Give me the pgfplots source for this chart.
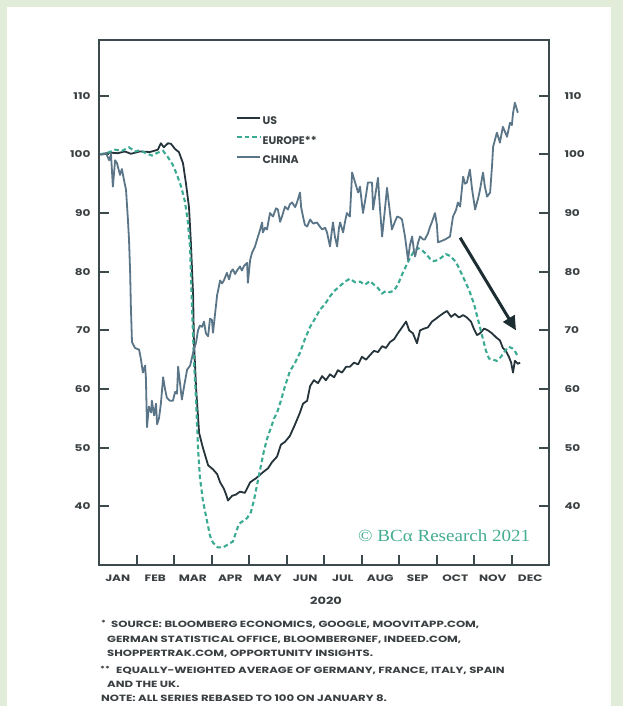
\documentclass[border=0pt]{standalone}
\usepackage{fontspec}
\setmainfont{Poppins}
\newfontfamily\widefont{Poppins}[FakeStretch=1.3]
\newfontfamily\bcafont{Liberation Serif}[FakeStretch=1.12]
\usepackage{pgfplots}
\pgfplotsset{compat=1.18}
\usetikzlibrary{arrows.meta}
\definecolor{bggreen}{HTML}{E2EDD9}
\definecolor{axisgray}{HTML}{3D4A4D}
\definecolor{txtgray}{HTML}{3A3F42}
\definecolor{uscol}{HTML}{25333A}
\definecolor{eucol}{HTML}{3BAA93}
\definecolor{cncol}{HTML}{5A7587}
\definecolor{bcateal}{HTML}{45AD92}
\definecolor{arrowcol}{HTML}{1D2E32}
\begin{document}
\begin{tikzpicture}[x=1pt,y=1pt]
\fill[bggreen] (0,0) rectangle (623,706);
\fill[white] (7,0) rectangle (611,699);
\useasboundingbox (0,0) rectangle (623,706);
\begin{axis}[
  at={(99pt,141pt)}, anchor=south west,
  scale only axis, width=450pt, height=525pt,
  xmin=0, xmax=12, ymin=30, ymax=119.5,
  axis line style={axisgray, line width=2pt},
  every tick/.style={axisgray, line width=2pt},
  tick align=inside,
  major tick length=10pt,
  xtick={1,...,11}, xticklabels={},
  extra x ticks={0.5,1.5,...,11.5},
  extra x tick labels={JAN,FEB,MAR,APR,MAY,JUN,JUL,AUG,SEP,OCT,NOV,DEC},
  extra x tick style={major tick length=0pt},
  xtick pos=left,
  ytick={40,50,...,110}, ytick pos=both,
  yticklabel style={xshift=-5pt},
  xticklabel style={yshift=-6pt},
  tick label style={font=\widefont\bfseries\fontsize{9.3}{9.3}\selectfont, text=txtgray},
  /pgf/number format/assume math mode=true,
  legend style={at={(0.304,0.857)}, anchor=north west, draw=none, fill=none,
    font=\bfseries\fontsize{11}{11}\selectfont, text=txtgray, row sep=7pt,
    inner sep=0pt, nodes={inner sep=1.5pt}},
  legend cell align=left,
  legend image code/.code={\draw[#1] (0pt,3.5pt) -- (23pt,3.5pt);},
  clip=false
]
\addplot[uscol, line width=1.8pt, line join=round] coordinates {
(0.05,100.0) (0.30,100.3) (0.50,100.2) (0.69,100.5) (0.85,100.1) (1.09,100.5) (1.36,100.4) (1.57,100.8) (1.65,101.9) (1.73,101.2) (1.84,101.9) (1.92,101.8) (2.03,100.9) (2.13,100.4) (2.24,98.5) (2.32,95.0) (2.40,91.0) (2.45,85.0) (2.51,76.0) (2.53,68.4) (2.59,60.0) (2.67,52.5) (2.77,50.0) (2.91,47.0) (3.04,46.3) (3.15,45.5) (3.23,44.1) (3.33,43.0) (3.39,42.0) (3.44,41.0) (3.55,41.8) (3.65,42.0) (3.76,42.5) (3.89,42.3) (4.03,44.1) (4.19,44.8) (4.37,45.8) (4.51,46.5) (4.61,47.5) (4.75,48.5) (4.85,50.5) (4.96,51.0) (5.09,52.0) (5.23,54.0) (5.36,56.0) (5.44,57.5) (5.55,58.0) (5.63,60.5) (5.73,61.5) (5.84,61.0) (5.95,62.2) (6.05,61.5) (6.16,62.5) (6.27,62.0) (6.37,63.2) (6.48,62.8) (6.59,63.8) (6.69,63.8) (6.80,64.5) (6.91,64.2) (7.01,65.5) (7.12,65.0) (7.23,65.8) (7.33,66.5) (7.44,66.3) (7.55,67.3) (7.65,67.0) (7.76,68.0) (7.87,68.5) (7.97,69.5) (8.08,70.5) (8.19,71.5) (8.27,70.0) (8.37,69.5) (8.48,67.8) (8.56,70.0) (8.67,70.3) (8.77,70.5) (8.88,71.5) (8.99,72.0) (9.09,72.5) (9.20,73.0) (9.28,73.3) (9.39,72.3) (9.49,72.8) (9.60,72.2) (9.71,72.6) (9.81,72.2) (9.92,71.5) (10.00,70.2) (10.08,69.2) (10.16,69.5) (10.27,70.3) (10.37,70.0) (10.48,69.5) (10.59,68.8) (10.69,68.3) (10.77,67.0) (10.85,66.5) (10.93,65.5) (10.99,64.5) (11.04,62.8) (11.09,64.8) (11.17,64.3) (11.23,64.5)
};
\addlegendentry{US}
\addplot[eucol, line width=2.1pt, dash pattern=on 4.5pt off 3pt] coordinates {
(0.03,100.0) (0.24,100.3) (0.43,100.8) (0.61,100.6) (0.80,101.2) (0.96,100.5) (1.09,100.7) (1.25,100.2) (1.41,99.8) (1.57,100.3) (1.71,100.6) (1.84,99.5) (1.97,98.2) (2.08,96.5) (2.19,94.5) (2.29,92.0) (2.37,88.5) (2.43,84.0) (2.45,80.0) (2.48,74.0) (2.51,69.0) (2.53,65.0) (2.59,58.0) (2.64,50.0) (2.69,45.0) (2.77,41.0) (2.88,37.5) (2.96,35.0) (3.04,33.8) (3.17,33.0) (3.31,33.0) (3.44,33.5) (3.57,34.0) (3.65,35.5) (3.73,37.0) (3.84,37.5) (3.95,38.0) (4.05,39.0) (4.13,41.0) (4.21,43.5) (4.32,47.0) (4.40,49.5) (4.48,51.5) (4.59,53.5) (4.67,55.0) (4.75,56.0) (4.85,58.0) (4.96,60.5) (5.09,63.0) (5.23,64.5) (5.36,66.2) (5.49,68.5) (5.63,70.6) (5.76,72.0) (5.89,73.5) (6.03,74.5) (6.16,75.8) (6.29,76.8) (6.43,77.6) (6.56,78.3) (6.69,78.8) (6.83,78.2) (6.96,78.3) (7.09,77.8) (7.23,78.4) (7.33,77.8) (7.44,77.2) (7.55,76.3) (7.65,76.7) (7.76,76.5) (7.87,76.8) (7.97,77.8) (8.08,79.5) (8.19,81.0) (8.29,82.3) (8.40,83.5) (8.51,84.0) (8.61,83.7) (8.72,83.0) (8.83,82.2) (8.93,81.8) (9.04,82.0) (9.15,82.5) (9.25,83.0) (9.36,82.7) (9.47,82.0) (9.57,81.0) (9.68,79.5) (9.79,78.0) (9.89,76.5) (10.00,74.5) (10.08,72.5) (10.16,70.5) (10.24,68.5) (10.32,66.5) (10.40,65.2) (10.51,65.0) (10.61,64.8) (10.72,65.5) (10.83,66.5) (10.91,67.2) (11.01,67.0) (11.09,66.5) (11.17,65.5)
};
\addlegendentry{EUROPE**}
\addplot[cncol, line width=1.8pt, line join=round] coordinates {
(0.03,100.0) (0.11,100.0) (0.19,100.2) (0.27,99.0) (0.32,100.0) (0.37,94.5) (0.43,99.0) (0.48,98.5) (0.56,96.5) (0.61,97.5) (0.67,95.5) (0.72,94.0) (0.77,89.0) (0.80,85.5) (0.83,80.0) (0.85,74.0) (0.88,68.0) (0.96,67.0) (1.07,66.7) (1.12,65.0) (1.17,62.8) (1.23,64.0) (1.25,62.0) (1.28,53.5) (1.33,57.0) (1.39,56.0) (1.41,58.0) (1.47,55.5) (1.52,57.5) (1.55,54.0) (1.60,55.0) (1.65,57.5) (1.71,62.0) (1.76,60.0) (1.81,58.5) (1.89,58.0) (1.97,58.0) (2.03,59.5) (2.08,59.2) (2.11,63.8) (2.16,61.0) (2.21,58.2) (2.27,60.5) (2.35,63.3) (2.43,64.0) (2.51,66.2) (2.59,68.0) (2.64,70.0) (2.69,70.8) (2.75,70.6) (2.80,71.5) (2.85,69.5) (2.91,69.0) (2.96,72.0) (3.01,71.8) (3.04,69.6) (3.09,72.5) (3.15,76.0) (3.23,78.5) (3.28,78.0) (3.33,78.5) (3.41,79.8) (3.47,78.7) (3.52,80.0) (3.57,80.4) (3.63,79.6) (3.68,80.2) (3.76,80.9) (3.81,80.2) (3.87,81.0) (3.95,81.5) (3.97,78.1) (4.03,82.0) (4.08,83.2) (4.16,84.3) (4.24,86.0) (4.29,87.0) (4.35,88.4) (4.37,86.7) (4.43,87.5) (4.48,87.2) (4.56,90.0) (4.64,89.4) (4.72,90.8) (4.77,90.6) (4.83,88.5) (4.88,89.4) (4.96,91.1) (5.04,90.6) (5.09,91.5) (5.15,91.8) (5.23,91.0) (5.28,91.8) (5.36,93.5) (5.39,91.0) (5.44,89.4) (5.49,88.0) (5.55,87.7) (5.63,88.9) (5.71,88.2) (5.81,88.4) (5.89,87.7) (5.95,87.2) (6.03,87.5) (6.08,86.7) (6.16,84.3) (6.21,87.0) (6.24,88.4) (6.29,86.0) (6.35,84.3) (6.40,87.5) (6.43,88.4) (6.51,86.7) (6.56,88.5) (6.61,90.0) (6.69,89.4) (6.75,96.9) (6.83,95.2) (6.91,93.5) (6.96,94.5) (7.04,90.0) (7.12,93.0) (7.17,95.2) (7.28,95.2) (7.31,90.6) (7.39,94.0) (7.44,96.0) (7.49,91.0) (7.55,86.0) (7.63,91.0) (7.68,94.3) (7.76,90.0) (7.81,87.2) (7.89,88.5) (7.95,89.4) (8.03,89.2) (8.08,88.9) (8.16,86.0) (8.24,82.0) (8.29,84.5) (8.35,86.0) (8.40,83.5) (8.43,82.6) (8.51,85.0) (8.56,86.0) (8.64,85.5) (8.69,85.5) (8.77,86.5) (8.83,87.7) (8.88,88.5) (8.96,90.0) (9.01,88.0) (9.04,85.0) (9.12,85.2) (9.23,85.5) (9.36,86.0) (9.44,89.4) (9.52,90.5) (9.57,91.8) (9.63,91.1) (9.71,96.2) (9.76,95.0) (9.81,95.2) (9.89,97.4) (9.95,94.0) (10.03,90.6) (10.11,92.5) (10.16,94.0) (10.24,96.9) (10.29,94.5) (10.35,92.8) (10.43,93.5) (10.48,98.0) (10.51,101.3) (10.56,102.5) (10.61,103.7) (10.67,102.5) (10.69,102.0) (10.77,104.7) (10.83,103.8) (10.88,103.0) (10.96,105.4) (11.01,105.0) (11.04,107.0) (11.09,108.8) (11.15,107.5) (11.17,107.1)
};
\addlegendentry{CHINA}
\draw[arrowcol, line width=3pt, -{Triangle[length=14pt,width=13pt]}] (axis cs:9.63,85.8) -- (axis cs:11.12,70.0);
\end{axis}
\begin{axis}[
  at={(99pt,141pt)}, anchor=south west,
  scale only axis, width=450pt, height=525pt,
  xmin=0, xmax=12, ymin=30, ymax=119.5,
  hide x axis, axis y line*=right,
  axis line style={draw=none},
  ytick={40,50,...,110}, major tick length=0pt,
  yticklabel style={xshift=12pt},
  tick label style={font=\widefont\bfseries\fontsize{9.3}{9.3}\selectfont, text=txtgray},
  /pgf/number format/assume math mode=true,
]
\addplot[draw=none] coordinates {(1,50) (2,60)};
\end{axis}
\node[anchor=base west, text=bcateal, font=\bcafont\fontsize{17}{17}\selectfont, inner sep=0pt] at (358,164) {© BCα Research 2021};
\node[anchor=base, text=txtgray, font=\widefont\bfseries\fontsize{10}{10}\selectfont, inner sep=0pt] at (326,101.5) {2020};
\begin{scope}[every node/.style={anchor=base west, text=txtgray, font=\widefont\bfseries\fontsize{9}{9}\selectfont, inner sep=0pt}]
\node[font=\widefont\bfseries\fontsize{7}{7}\selectfont] at (101,80.5) {*};
\node at (111,78.7) {SOURCE: BLOOMBERG ECONOMICS, GOOGLE, MOOVITAPP.COM,};
\node at (107,63.7) {GERMAN STATISTICAL OFFICE, BLOOMBERGNEF, INDEED.COM,};
\node at (107,49.7) {SHOPPERTRAK.COM, OPPORTUNITY INSIGHTS.};
\node[font=\widefont\bfseries\fontsize{7}{7}\selectfont] at (100,34.5) {**};
\node at (116,32.7) {EQUALLY-WEIGHTED AVERAGE OF GERMANY, FRANCE, ITALY, SPAIN};
\node at (107,18.7) {AND THE UK.};
\node at (101,4.7) {NOTE: ALL SERIES REBASED TO 100 ON JANUARY 8.};
\end{scope}
\end{tikzpicture}
\end{document}
